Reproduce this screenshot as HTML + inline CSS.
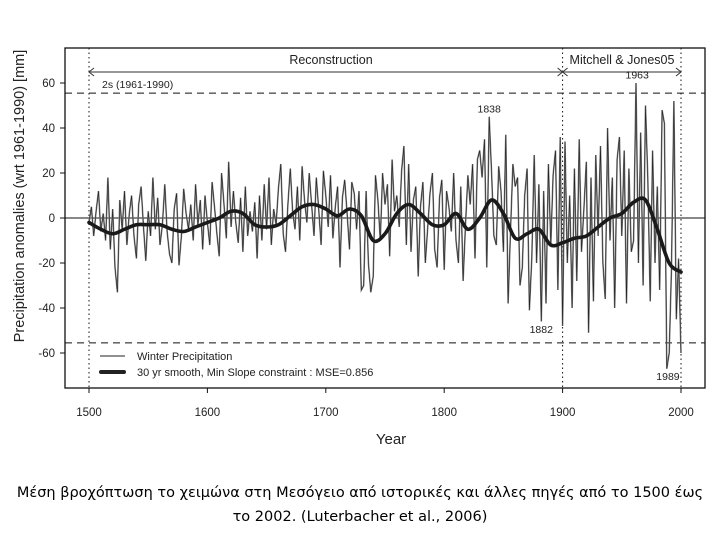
<!DOCTYPE html>
<html><head><meta charset="utf-8"><style>
body{margin:0;background:#fff;width:720px;height:540px;overflow:hidden;font-family:"Liberation Sans",sans-serif}
svg text{font-family:"Liberation Sans",sans-serif;fill:#222}
.cap{position:absolute;left:0;top:481px;width:720px;text-align:center;font-family:"DejaVu Sans","Liberation Sans",sans-serif;font-size:14.5px;line-height:24px;color:#000}
</style></head><body>
<svg id="chart" width="720" height="540" style="position:absolute;left:0;top:0"></svg>
<div class="cap">Μέση βροχόπτωση το χειμώνα στη Μεσόγειο από ιστορικές και άλλες πηγές από το 1500 έως<br>το 2002. (Luterbacher et al., 2006)</div>
<script>
const rawStartYear = 1500;
const rawValues = [
-2,5,-8,3,12,-6,2,-10,18,-14,4,-22,-33,8,-5,12,-12,2,10,-8,-18,6,14,-4,-19,
3,-8,18,-5,9,-12,-3,15,-6,-16,-20,4,11,-21,-8,13,2,-5,6,-10,15,-3,8,-14,10,
-2,-12,16,5,-7,-17,20,6,-9,25,-4,12,-2,-11,9,-15,14,-8,3,-6,7,-18,10,-10,15,
-5,18,-12,4,-3,13,24,-7,-15,6,22,3,-5,14,-10,23,8,-2,20,6,-8,18,4,-12,21,
10,-4,19,-9,5,14,-22,9,17,2,-14,16,11,-5,12,-32,-30,12,-20,-33,-26,19,8,-10,20,
6,15,-17,26,3,10,-4,21,32,-12,24,-15,8,14,-26,5,16,-20,-5,11,20,-14,-22,9,17,
-23,12,5,-6,20,-10,-20,14,-28,-3,19,6,24,-18,26,30,18,35,-22,45,20,-8,-12,23,12,
-15,37,-38,-6,24,14,18,-30,-22,10,22,-41,-18,28,-20,15,-46,12,-38,24,-12,19,30,-32,36,
-48,34,-20,10,-40,22,-28,35,-15,4,25,-51,18,-37,28,-8,32,-20,-36,40,-10,18,-40,26,36,
-8,30,-38,22,-15,-10,60,-20,38,-30,50,18,-37,30,-20,14,-32,48,42,-67,-60,-22,52,-45,-18,
-60];
const rawStep = 2;
const smoothYears = [1500,1510,1520,1530,1540,1550,1560,1570,1580,1590,1600,1610,1620,1630,1640,1650,1660,1670,1680,1690,1700,1710,1720,1730,1740,1750,1760,1770,1780,1790,1800,1810,1820,1830,1840,1850,1860,1870,1880,1890,1900,1910,1920,1930,1940,1950,1960,1970,1980,1990,2000];
const smoothValues = [-2,-5,-7,-5,-3,-3,-3,-5,-6,-4,-2,0,3,2,-3,-4,-3,1,5,6,4,1,4,1,-10,-7,2,6,2,-3,-3,2,-5,0,8,2,-9,-7,-5,-12,-11,-9,-8,-4,0,2,7,8,-5,-20,-24];
const xTicks = [1500,1600,1700,1800,1900,2000];
const yTicks = [-60,-40,-20,0,20,40,60];
const annotations = [["1838",1838,47],["1963",1963,62],["1882",1882,-51],["1989",1989,-72]];

const NS="http://www.w3.org/2000/svg", svg=document.getElementById('chart');
const X=y=>89+(y-1500)*1.184, Y=v=>218-v*2.25;
function mk(t,a,p){const e=document.createElementNS(NS,t);for(const k in a)e.setAttribute(k,a[k]);(p||svg).appendChild(e);return e;}
function txt(s,x,y,sz,anc){const t=mk('text',{x:x,y:y,'font-size':sz,'text-anchor':anc||'start'});t.textContent=s;return t;}

let fr=mk('rect',{x:65,y:48,width:640,height:340,fill:'none',stroke:'#111','stroke-width':1.3});

let z=mk('line',{x1:65,x2:705,y1:Y(0),y2:Y(0),stroke:'#111','stroke-width':1});

[55.5,-55.5].forEach(v=>{let l=mk('line',{x1:65,x2:705,y1:Y(v),y2:Y(v),stroke:'#111','stroke-width':1,'stroke-dasharray':'7,5'});
});
[1500,1900,2000].forEach(v=>{let l=mk('line',{x1:X(v),x2:X(v),y1:48,y2:388,stroke:'#111','stroke-width':1,'stroke-dasharray':'1.5,3'});
});

let d='';rawValues.forEach((v,i)=>{d+=(i?'L':'M')+X(rawStartYear+i*rawStep).toFixed(1)+' '+Y(v).toFixed(1);});
let rp=mk('path',{d:d,fill:'none',stroke:'#888','stroke-width':1.6});

let rp2=mk('path',{d:d,fill:'none',stroke:'#222','stroke-width':0.6});


const pts=smoothYears.map((y,i)=>[X(y),Y(smoothValues[i])]);
let sd='M'+pts[0][0]+' '+pts[0][1];
for(let i=0;i<pts.length-1;i++){const p0=pts[Math.max(0,i-1)],p1=pts[i],p2=pts[i+1],p3=pts[Math.min(pts.length-1,i+2)];
sd+=` C${p1[0]+(p2[0]-p0[0])/6} ${p1[1]+(p2[1]-p0[1])/6} ${p2[0]-(p3[0]-p1[0])/6} ${p2[1]-(p3[1]-p1[1])/6} ${p2[0]} ${p2[1]}`;}
let sp=mk('path',{d:sd,fill:'none',stroke:'#1a1a1a','stroke-width':3.6,'stroke-linecap':'round'});


xTicks.forEach(v=>{let l=mk('line',{x1:X(v),x2:X(v),y1:388,y2:393,stroke:'#111'});

let t=txt(String(v),X(v),416,11.5,'middle');});
yTicks.forEach(v=>{let l=mk('line',{x1:60,x2:65,y1:Y(v),y2:Y(v),stroke:'#111'});

let t=txt(String(v),55,Y(v)+4,11.5,'end');});
let xt=txt('Year',391,444,15,'middle');
let yt=txt('Precipitation anomalies (wrt 1961-1990) [mm]',0,0,14.5,'middle');yt.setAttribute('transform','translate(24,196) rotate(-90)');


let a1=mk('line',{x1:X(1500),x2:X(1900),y1:72,y2:72,stroke:'#777','stroke-width':1.5});
let a2=mk('line',{x1:X(1900),x2:X(2000),y1:72,y2:72,stroke:'#777','stroke-width':1.5});
[[X(1500),5],[X(1900),-5],[X(1900),5],[X(2000),-5]].forEach(([x,dx])=>{let h=mk('path',{d:`M${x+dx} 68 L${x} 72 L${x+dx} 76`,fill:'none',stroke:'#333','stroke-width':1});
});
let r=txt('Reconstruction',331,64,12.5,'middle');
let m=txt('Mitchell & Jones05',622,64,12.5,'middle');
let s2=txt('2s  (1961-1990)',102,88,10.5);
annotations.forEach(([s,yr,v])=>{let t=txt(s,X(yr),Y(v),10.5,'middle');});

let l1=mk('line',{x1:100,x2:125,y1:356,y2:356,stroke:'#222','stroke-width':1});
let l2=mk('line',{x1:101,x2:124,y1:372,y2:372,stroke:'#222','stroke-width':4,'stroke-linecap':'round'});
let lt1=txt('Winter Precipitation',137,360,11);
let lt2=txt('30 yr smooth, Min Slope constraint : MSE=0.856',137,376,11);
</script>
</body></html>
